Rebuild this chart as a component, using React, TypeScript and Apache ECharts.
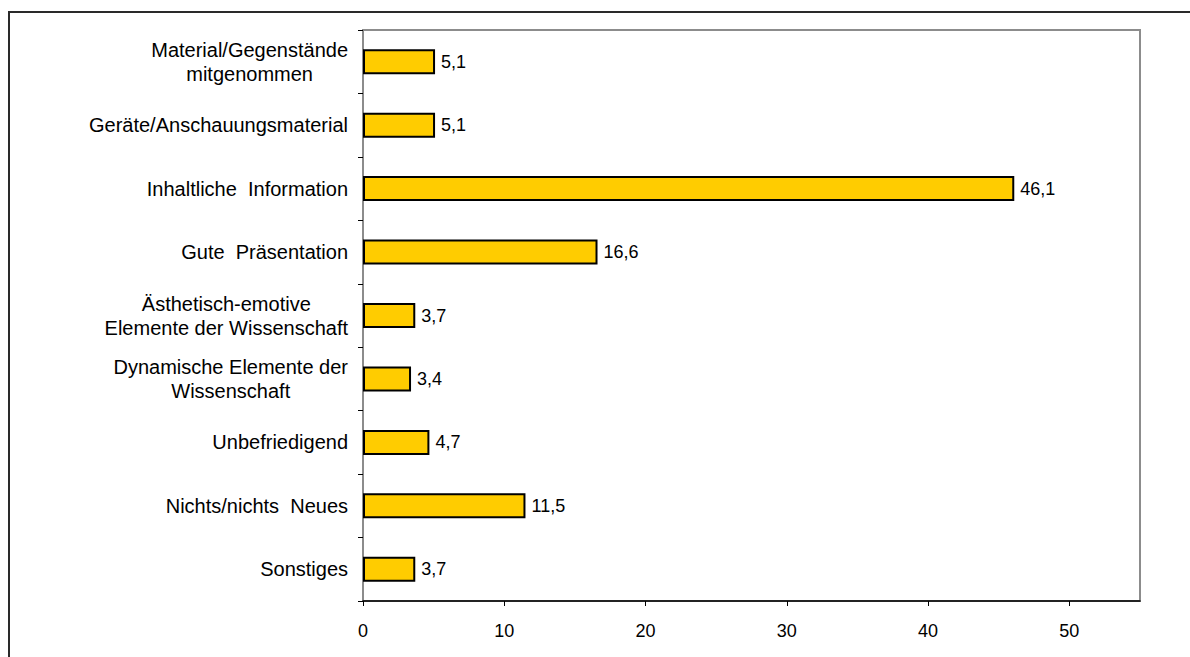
import React, { useEffect, useRef } from "react";
import * as echarts from "echarts";

const categories: string[] = [
  "Material/Gegenstände\nmitgenommen",
  "Geräte/Anschauungsmaterial",
  "Inhaltliche  Information",
  "Gute  Präsentation",
  "Ästhetisch-emotive\nElemente der Wissenschaft",
  "Dynamische Elemente der\nWissenschaft",
  "Unbefriedigend",
  "Nichts/nichts  Neues",
  "Sonstiges",
];

const values: number[] = [5.1, 5.1, 46.1, 16.6, 3.7, 3.4, 4.7, 11.5, 3.7];

const xMin = 0;
const xMax = 55;
const xInterval = 10;

const FONT = 'Arial, "Liberation Sans", sans-serif';

export default function App() {
  const ref = useRef<HTMLDivElement>(null);

  useEffect(() => {
    if (!ref.current) return;
    const chart = echarts.init(ref.current, undefined, { renderer: "svg" });
    chart.setOption({
      animation: false,
      backgroundColor: "#ffffff",
      textStyle: { fontFamily: FONT },
      graphic: [
        {
          type: "rect",
          shape: { x: 9, y: 12, width: 1220, height: 700 },
          style: { fill: "none", stroke: "#2a2a2a", lineWidth: 2 },
          silent: true,
          z: 100,
        },
      ],
      grid: {
        left: 363,
        right: 50,
        top: 30,
        bottom: 56,
        show: true,
        borderColor: "#8c8c8c",
        borderWidth: 2,
        backgroundColor: "transparent",
      },
      xAxis: {
        type: "value",
        min: xMin,
        max: xMax,
        interval: xInterval,
        axisLine: { show: true, lineStyle: { color: "#000", width: 1.5 } },
        axisTick: { show: true, inside: false, length: 5, lineStyle: { color: "#000" } },
        splitLine: { show: false },
        axisLabel: {
          showMaxLabel: false,
          margin: 21,
          fontSize: 18,
          color: "#000",
          fontFamily: FONT,
        },
      },
      yAxis: {
        type: "category",
        inverse: true,
        data: categories,
        axisLine: { show: true, lineStyle: { color: "#8c8c8c", width: 2 } },
        axisTick: { show: true, inside: false, length: 5, alignWithLabel: false, lineStyle: { color: "#000" } },
        axisLabel: {
          margin: 15,
          color: "#000",
          fontSize: 20,
          fontFamily: FONT,
          formatter: (v: string) =>
            v
              .split("\n")
              .map((l) => `{c|${l}}`)
              .join("\n"),
          rich: {
            c: { align: "center", fontSize: 20, lineHeight: 24, color: "#000", fontFamily: FONT },
          },
        },
      },
      series: [
        {
          type: "bar",
          data: values,
          barWidth: 25,
          itemStyle: { color: "#FFCC00", borderColor: "#000", borderWidth: 2 },
          label: {
            show: true,
            position: "right",
            distance: 6,
            color: "#000",
            fontSize: 18,
            fontFamily: FONT,
            formatter: (p: any) => String(p.value).replace(".", ","),
          },
        },
      ],
    });
    return () => chart.dispose();
  }, []);

  return (
    <div
      ref={ref}
      style={{ position: "fixed", left: 0, top: 0, width: 1190, height: 657 }}
    />
  );
}
